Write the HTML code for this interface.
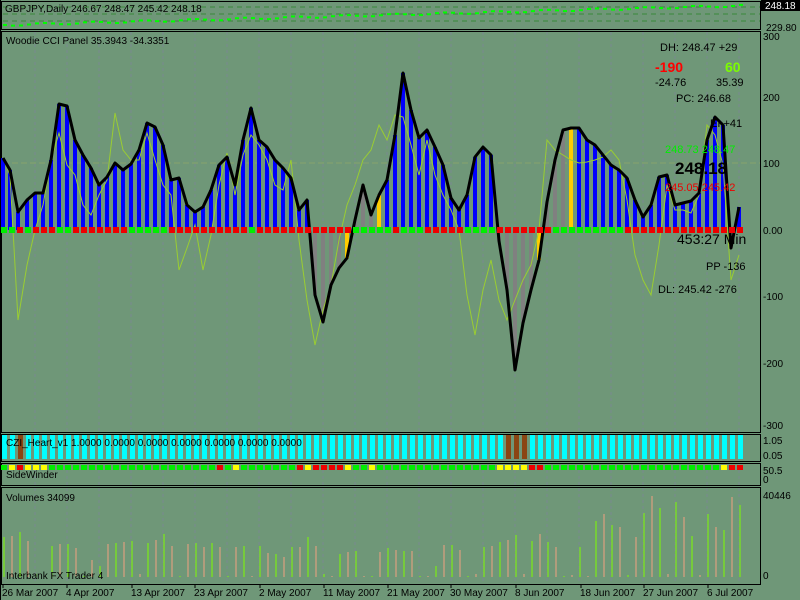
<!DOCTYPE html>
<html><head><meta charset="utf-8"><style>
body{margin:0;background:#6f9778;width:800px;height:600px;overflow:hidden}
svg{display:block}
text{font-family:"Liberation Sans",sans-serif;font-size:10px;fill:#000}
</style></head><body>
<svg id="s" width="800" height="600" xmlns="http://www.w3.org/2000/svg"></svg>
<script>
const S=document.getElementById('s');let h='';
const N=93,x0=4,dx=8;const X=i=>x0+i*dx;
h+='<rect x="0" y="0" width="800" height="600" fill="#6f9778"/>';
for(let gx=35;gx<760;gx+=32){h+=`<line x1="${gx}" y1="32" x2="${gx}" y2="583" stroke="#7a8a90" stroke-dasharray="3,3" stroke-width="1"/>`;}
[[1,1,29],[1,31,432],[1,434,461],[1,463,485],[1,487,584]].forEach(p=>{h+=`<rect x="${p[0]+0.5}" y="${p[1]+0.5}" width="759" height="${p[2]-p[1]}" fill="none" stroke="#000"/>`;});
h+='<line x1="0.5" y1="0" x2="0.5" y2="600" stroke="#000"/>';
for(let y of [7,14,21]) h+=`<line x1="3" y1="${y}" x2="760" y2="${y}" stroke="#3a8a3a" stroke-dasharray="5,4"/>`;
for(let i=0;i<N;i++){let y=24-i*0.21+Math.sin(i)*1;h+=`<rect x="${X(i)-1}" y="${y}" width="4" height="2" fill="#00ff00"/>`;}
h+='<text x="5" y="12">GBPJPY,Daily  246.67 248.47 245.42 248.18</text>';
h+='<rect x="761" y="0" width="39" height="11" fill="#000"/><text x="765" y="9" style="fill:#fff">248.18</text>';
h+='<text x="766" y="31">229.80</text>';
const Z=230;
const bl=[[3,158],[10,170],[18,212],[27,200],[35,193],[43,193],[51,160],[59,104],[67,106],[75,140],[83,155],[91,168],[99,185],[107,177],[115,163],[123,170],[131,164],[139,150],[147,123],[155,127],[163,145],[171,180],[179,178],[187,205],[195,212],[203,207],[211,190],[219,165],[227,157],[235,185],[243,140],[251,108],[259,140],[267,147],[275,160],[283,168],[291,178],[299,210],[307,200],[315,295],[323,322],[331,285],[339,268],[347,258],[355,220],[363,185],[371,215],[379,195],[387,180],[395,135],[403,73],[411,110],[419,138],[427,130],[435,147],[443,165],[451,198],[459,210],[467,195],[475,157],[483,147],[491,155],[499,241],[507,290],[515,370],[523,323],[531,290],[539,260],[547,202],[555,160],[563,130],[571,128],[579,128],[587,140],[595,145],[603,155],[611,165],[619,170],[627,178],[635,200],[643,217],[651,205],[659,177],[667,175],[675,205],[683,203],[691,201],[699,193],[707,140],[715,117],[723,125],[731,248],[739,207]];
const yl=[[3,158],[10,175],[18,320],[27,265],[35,230],[43,205],[51,160],[59,133],[67,165],[75,175],[83,205],[91,215],[99,195],[107,180],[115,113],[123,150],[131,160],[139,160],[147,133],[155,160],[163,185],[171,195],[179,270],[187,248],[195,225],[203,270],[211,235],[219,185],[227,153],[235,195],[243,155],[251,135],[259,145],[267,160],[275,185],[283,190],[291,160],[299,240],[307,300],[315,345],[323,310],[331,285],[339,240],[347,205],[355,185],[363,160],[371,150],[379,125],[387,140],[395,115],[403,117],[411,145],[419,175],[427,140],[435,175],[443,195],[451,210],[459,230],[467,295],[475,335],[483,290],[491,260],[499,300],[507,320],[515,300],[523,280],[531,265],[539,230],[547,140],[555,150],[563,155],[571,160],[579,163],[587,162],[595,160],[603,157],[611,150],[619,160],[627,200],[635,255],[643,280],[651,295],[659,245],[667,185],[675,210],[683,210],[691,213],[699,195],[707,125],[715,135],[723,165],[731,280],[739,255]];
h+=`<line x1="3" y1="163" x2="760" y2="163" stroke="#a0b060" stroke-dasharray="6,3" stroke-width="0.6"/>`;
const gray=new Set([39,40,41,42,44,45,46,62,63,64,65,66,68,69,70]),yel=new Set([43,47,67,71]);
bl.forEach((p,i)=>{let c=yel.has(i)?'#ffcc00':gray.has(i)?'#808080':(p[1]<Z?'#0000ff':'#808080');let y=Math.min(p[1],Z),hh=Math.abs(p[1]-Z);h+=`<rect x="${p[0]-2}" y="${y}" width="4" height="${hh}" fill="${c}"/>`;});
h+=`<polyline points="${yl.map(p=>p.join(',')).join(' ')}" fill="none" stroke="#9acd32" stroke-width="1"/>`;
h+=`<polyline points="${bl.map(p=>p.join(',')).join(' ')}" fill="none" stroke="#000" stroke-width="3" stroke-linejoin="round"/>`;
const zg=new Set([0,1,3,7,8,16,17,18,19,20,31,44,45,46,47,48,50,51,52,58,59,60,61,69,70,71,72,73,74,75,76,77]);
for(let i=0;i<N;i++)h+=`<rect x="${X(i)-3}" y="227" width="6" height="6" fill="${zg.has(i)?'#00ee00':'#ee0000'}"/>`;
h+='<text x="6" y="44">Woodie CCI Panel 35.3943 -34.3351</text>';
const T=(x,y,t,c,s,w,f)=>h+=`<text x="${x}" y="${y}" style="fill:${c||'#000'};font-size:${s||11}px;font-weight:${w||'normal'};${f?'font-family:'+f:''}">${t}</text>`;
const M='"DejaVu Sans",sans-serif';
T(660,51,'DH: 248.47 +29','#000',11,'normal',M);T(655,72,'-190','#ff0000',14,'bold',M);T(725,72,'60','#7cfc00',14,'bold',M);
T(655,86,'-24.76','#000',11,'normal',M);T(716,86,'35.39','#000',11,'normal',M);T(676,102,'PC: 246.68','#000',11,'normal',M);T(710,127,'EI +41','#000',11,'normal',M);
T(665,153,'248.73 248.47','#00ee00',11,'normal',M);T(675,174,'248.18','#000',17,'bold',M);T(665,191,'245.05 245.42','#ee0000',11,'normal',M);
T(677,244,'453:27 Min','#000',14,'normal',M);T(706,270,'PP -136','#000',11,'normal',M);T(658,293,'DL: 245.42 -276','#000',11,'normal',M);
[[300,40],[200,101],[100,167],['0.00',234],[-100,300],[-200,367],[-300,429]].forEach(a=>T(763,a[1],a[0],'#000',10));
for(let i=0;i<N;i++){let br=(i==2||i==63||i==64||i==65);h+=`<rect x="${X(i)-2}" y="435" width="5" height="24" fill="${br?'#8b4513':'#00ffff'}"/>`;}
h+='<text x="6" y="446">CZI_Heart_v1 1.0000 0.0000 0.0000 0.0000 0.0000 0.0000 0.0000</text>';
T(763,444,'1.05','#000',10);T(763,459,'0.05','#000',10);
const sy={1:'#ffff00',2:'#ee0000',3:'#ffff00',4:'#ffff00',5:'#ffff00',27:'#ee0000',29:'#ffff00',37:'#ee0000',38:'#ffff00',39:'#ee0000',40:'#ee0000',41:'#ee0000',42:'#ee0000',43:'#ffff00',46:'#ffff00',62:'#ffff00',63:'#ffff00',64:'#ffff00',65:'#ffff00',66:'#ee0000',67:'#ee0000',90:'#ffff00',91:'#ee0000',92:'#ee0000'};
for(let i=0;i<N;i++)h+=`<rect x="${X(i)-3}" y="465" width="6" height="5" fill="${sy[i]||'#00ee00'}"/>`;
h+='<text x="6" y="478">SideWinder</text>';T(763,474,'50.5','#000',10);T(763,483,'0','#000',10);
const vv=[40,41,45,36,40,3,1,31,33,33,29,1,17,15,11,33,34,35,36,3,34,37,37,43,31,1,33,34,30,34,30,1,1,30,31,1,31,24,23,1,20,30,30,40,31,3,1,23,27,25,26,1,1,25,29,27,26,28,26,1,1,11,32,32,27,1,26,3,30,31,35,37,42,3,27,36,43,35,30,1,2,30,1,1,56,63,52,50,2,40,64,81,71,69,3,75,60,41,2,63,50,3,47,80,72];
for(let i=0;i<N;i++){let v=vv[Math.round(i*vv.length/N)]||20;let c=(i%2==0)?'#7cfc00':'#f0a080';h+=`<line x1="${X(i)}" y1="577" x2="${X(i)}" y2="${577-v}" stroke="${c}"/>`;}
h+='<text x="6" y="501">Volumes 34099</text><text x="6" y="579">Interbank FX Trader 4</text>';
T(763,499,'40446','#000',10);T(763,579,'0','#000',10);
[['26 Mar 2007',2],['4 Apr 2007',66],['13 Apr 2007',131],['23 Apr 2007',194],['2 May 2007',259],['11 May 2007',323],['21 May 2007',387],['30 May 2007',450],['8 Jun 2007',515],['18 Jun 2007',580],['27 Jun 2007',643],['6 Jul 2007',707]].forEach(d=>{h+=`<line x1="${d[1]+1}" y1="584" x2="${d[1]+1}" y2="588" stroke="#000"/>`;T(d[1],596,d[0],'#000',10);});
S.innerHTML=h;
</script>
</body></html>
